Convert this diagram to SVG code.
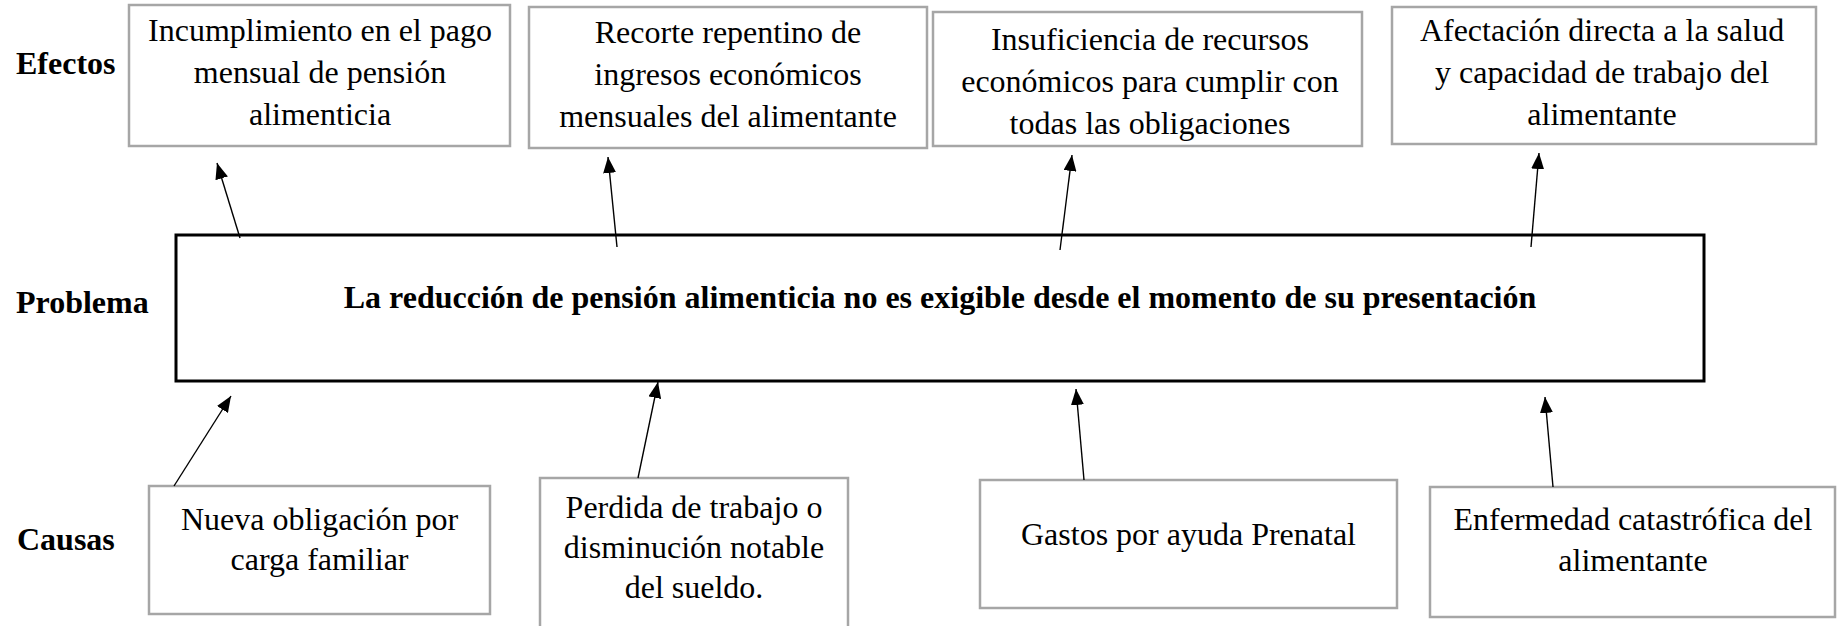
<svg xmlns="http://www.w3.org/2000/svg" width="1845" height="626" viewBox="0 0 1845 626">
<defs>
<style>
.bg{fill:#ffffff}
.box{fill:#ffffff;stroke:#a6a6a6;stroke-width:2.5}
.pbox{fill:#ffffff;stroke:#000000;stroke-width:3}
.t{font-family:"Liberation Serif","Times New Roman",serif;font-size:32px;fill:#000;text-anchor:middle}
.lbl{font-family:"Liberation Serif","Times New Roman",serif;font-size:32px;font-weight:bold;fill:#000}
.pt{font-family:"Liberation Serif","Times New Roman",serif;font-size:32px;font-weight:bold;fill:#000;text-anchor:middle}
.c{stroke:#000;stroke-width:1.4;fill:none;marker-end:url(#ah)}
</style>
<marker id="ah" viewBox="0 0 10 10" refX="10" refY="5" markerWidth="16" markerHeight="13" markerUnits="userSpaceOnUse" orient="auto" preserveAspectRatio="none">
<path d="M0,0 L10,5 L0,10 z" fill="#000"/>
</marker>
</defs>
<rect class="bg" x="0" y="0" width="1845" height="626"/>
<g id="labels">
<text class="lbl" x="16" y="74">Efectos</text>
<text class="lbl" x="16" y="313">Problema</text>
<text class="lbl" x="17" y="550">Causas</text>
</g>
<g id="effect1">
<rect class="box" x="129" y="5" width="381" height="141"/>
<text class="t" x="320" y="41">Incumplimiento en el pago</text>
<text class="t" x="320" y="83">mensual de pensión</text>
<text class="t" x="320" y="125">alimenticia</text>
</g>
<g id="effect2">
<rect class="box" x="529" y="7" width="398" height="141"/>
<text class="t" x="728" y="43">Recorte repentino de</text>
<text class="t" x="728" y="85">ingresos económicos</text>
<text class="t" x="728" y="127">mensuales del alimentante</text>
</g>
<g id="effect3">
<rect class="box" x="933" y="12" width="429" height="134"/>
<text class="t" x="1150" y="50">Insuficiencia de recursos</text>
<text class="t" x="1150" y="92">económicos para cumplir con</text>
<text class="t" x="1150" y="134">todas las obligaciones</text>
</g>
<g id="effect4">
<rect class="box" x="1392" y="7" width="424" height="137"/>
<text class="t" x="1602" y="41">Afectación directa a la salud</text>
<text class="t" x="1602" y="83">y capacidad de trabajo del</text>
<text class="t" x="1602" y="125">alimentante</text>
</g>
<g id="problem">
<rect class="pbox" x="176" y="235" width="1528" height="146"/>
<text class="pt" x="940" y="308">La reducción de pensión alimenticia no es exigible desde el momento de su presentación</text>
</g>
<g id="cause1">
<rect class="box" x="149" y="486" width="341" height="128"/>
<text class="t" x="319.5" y="530">Nueva obligación por</text>
<text class="t" x="319.5" y="570">carga familiar</text>
</g>
<g id="cause2">
<rect class="box" x="540" y="478" width="308" height="160"/>
<text class="t" x="694" y="518">Perdida de trabajo o</text>
<text class="t" x="694" y="558">disminución notable</text>
<text class="t" x="694" y="598">del sueldo.</text>
</g>
<g id="cause3">
<rect class="box" x="980" y="480" width="417" height="128"/>
<text class="t" x="1188.5" y="545">Gastos por ayuda Prenatal</text>
</g>
<g id="cause4">
<rect class="box" x="1430" y="487" width="405" height="130"/>
<text class="t" x="1633" y="530">Enfermedad catastrófica del</text>
<text class="t" x="1633" y="571">alimentante</text>
</g>
<g id="connectors">
<line class="c" x1="240" y1="238" x2="217" y2="163"/>
<line class="c" x1="617" y1="247" x2="608" y2="157"/>
<line class="c" x1="1060" y1="250" x2="1072" y2="155"/>
<line class="c" x1="1531" y1="247" x2="1539" y2="153"/>
<line class="c" x1="174" y1="486" x2="231" y2="396"/>
<line class="c" x1="638" y1="478" x2="658" y2="382"/>
<line class="c" x1="1084" y1="480" x2="1076" y2="389"/>
<line class="c" x1="1553" y1="487" x2="1545" y2="397"/>
</g>
</svg>
